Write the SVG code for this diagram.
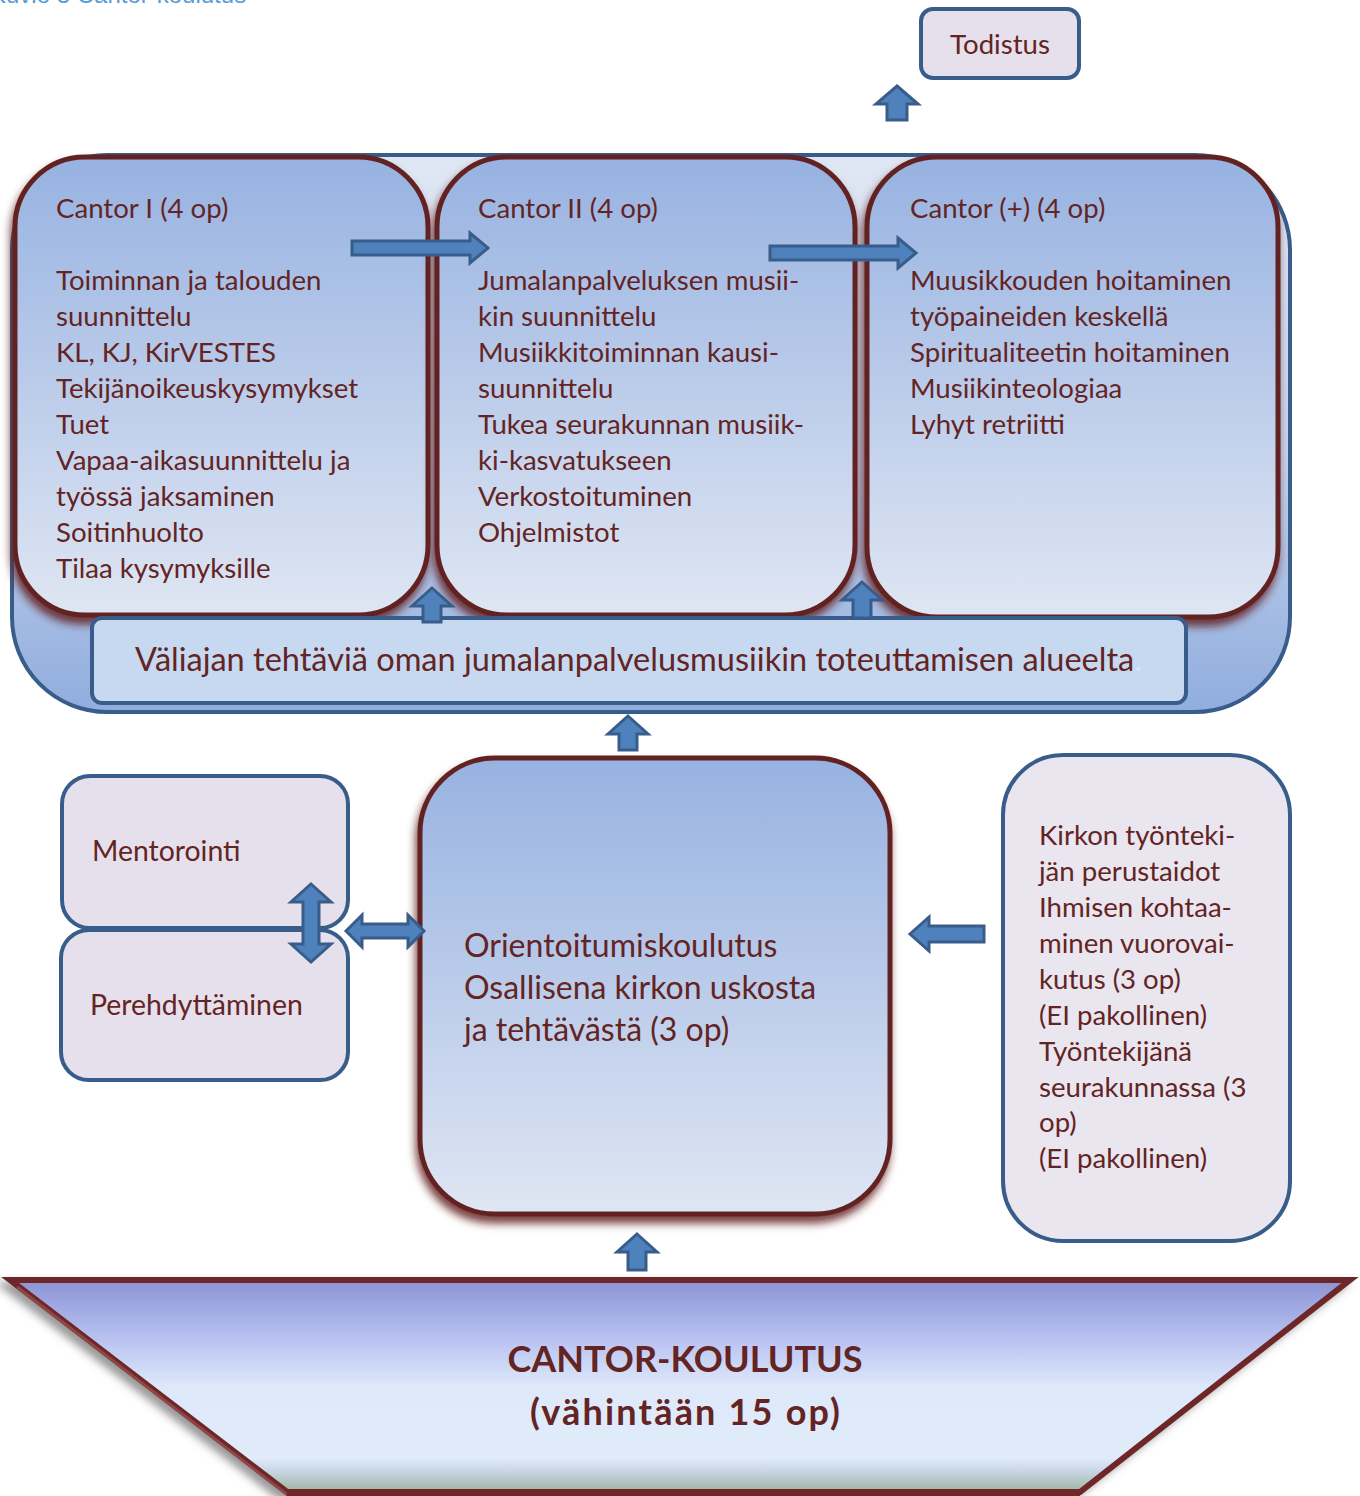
<svg xmlns="http://www.w3.org/2000/svg" width="1360" height="1496" viewBox="0 0 1360 1496">
<defs>
<linearGradient id="gFrame" x1="0" y1="0" x2="0" y2="1">
<stop offset="0" stop-color="#E0E7F4"/><stop offset="0.55" stop-color="#C3D2EC"/><stop offset="1" stop-color="#90ADDE"/>
</linearGradient>
<linearGradient id="gBox" x1="0" y1="0" x2="0" y2="1">
<stop offset="0" stop-color="#97B2E1"/><stop offset="1" stop-color="#DFE6F3"/>
</linearGradient>
<linearGradient id="gTrap" x1="0" y1="0" x2="0" y2="1">
<stop offset="0" stop-color="#8B94D3"/><stop offset="0.28" stop-color="#B9C2F1"/><stop offset="0.5" stop-color="#DDE8FA"/><stop offset="0.84" stop-color="#E1ECFA"/><stop offset="0.9" stop-color="#C9D6E6"/><stop offset="1" stop-color="#9EB59E"/>
</linearGradient>
<filter id="shRed" x="-10%" y="-10%" width="120%" height="125%">
<feDropShadow dx="-2" dy="7" stdDeviation="4" flood-color="#632423" flood-opacity="0.85"/>
</filter>
<filter id="shGrey" x="-10%" y="-10%" width="120%" height="130%">
<feDropShadow dx="-7" dy="5" stdDeviation="4" flood-color="#555555" flood-opacity="0.6"/>
</filter>
<style>
.t{font-family:Lato,"Liberation Sans",sans-serif;fill:#632423;}
.c{font-size:27.6px;}
.m{font-size:28.4px;}
.o{font-size:32px;}
.red{stroke:#632423;stroke-width:5;fill:url(#gBox);}
.blue{stroke:#385D8A;stroke-width:4;}
.lav{fill:#E5E0EC;}
.arr{fill:#4F81BD;stroke:#385D8A;stroke-width:3;stroke-linejoin:miter;}
</style>
</defs>
<rect width="1360" height="1496" fill="#FFFFFF"/>
<text x="-10" y="3" style="font-family:'Liberation Sans',sans-serif;font-size:24px;fill:#5B9BD5;">Kuvio 3 Cantor-koulutus</text>

<g id="frame">
<rect x="12" y="155" width="1278" height="557" rx="95" ry="95" fill="url(#gFrame)" class="blue"/>
</g>

<g id="todistus">
<rect x="921" y="9" width="158" height="69" rx="12" class="lav blue"/>
<text x="1000" y="54" text-anchor="middle" class="t c">Todistus</text>
</g>

<g id="cantor1">
<rect x="15" y="157" width="413" height="458" rx="70" class="red" filter="url(#shRed)"/>
<text class="t c" x="56" y="218">Cantor I (4 op)</text>
<text class="t c" x="56" y="290">Toiminnan ja talouden</text>
<text class="t c" x="56" y="326">suunnittelu</text>
<text class="t c" x="56" y="362">KL, KJ, KirVESTES</text>
<text class="t c" x="56" y="398">Tekijänoikeuskysymykset</text>
<text class="t c" x="56" y="434">Tuet</text>
<text class="t c" x="56" y="470">Vapaa-aikasuunnittelu ja</text>
<text class="t c" x="56" y="506">työssä jaksaminen</text>
<text class="t c" x="56" y="542">Soitinhuolto</text>
<text class="t c" x="56" y="578">Tilaa kysymyksille</text>
</g>

<g id="cantor2">
<rect x="437" y="157" width="418" height="458" rx="70" class="red" filter="url(#shRed)"/>
<text class="t c" x="478" y="218">Cantor II (4 op)</text>
<text class="t c" x="478" y="290">Jumalanpalveluksen musii-</text>
<text class="t c" x="478" y="326">kin suunnittelu</text>
<text class="t c" x="478" y="362">Musiikkitoiminnan kausi-</text>
<text class="t c" x="478" y="398">suunnittelu</text>
<text class="t c" x="478" y="434">Tukea seurakunnan musiik-</text>
<text class="t c" x="478" y="470">ki-kasvatukseen</text>
<text class="t c" x="478" y="506">Verkostoituminen</text>
<text class="t c" x="478" y="542">Ohjelmistot</text>
</g>

<g id="cantor3">
<rect x="867" y="157" width="411" height="460" rx="70" class="red" filter="url(#shRed)"/>
<text class="t c" x="910" y="218">Cantor (+) (4 op)</text>
<text class="t c" x="910" y="290">Muusikkouden hoitaminen</text>
<text class="t c" x="910" y="326">työpaineiden keskellä</text>
<text class="t c" x="910" y="362">Spiritualiteetin hoitaminen</text>
<text class="t c" x="910" y="398">Musiikinteologiaa</text>
<text class="t c" x="910" y="434">Lyhyt retriitti</text>
</g>

<g id="valiaika">
<rect x="92" y="618" width="1094" height="85" rx="10" fill="#C6D9F1" class="blue"/>
<text class="t" x="135" y="671" style="font-size:32.5px;">Väliajan tehtäviä oman jumalanpalvelusmusiikin toteuttamisen alueelta<tspan style="fill:#DCE4F2;">.</tspan></text>
</g>

<g id="mentorointi">
<rect x="62" y="776" width="286" height="152" rx="28" class="lav blue"/>
<text class="t m" x="92" y="861">Mentorointi</text>
</g>

<g id="perehdyttaminen">
<rect x="61" y="930" width="287" height="150" rx="28" class="lav blue"/>
<text class="t m" x="90" y="1015">Perehdyttäminen</text>
</g>

<g id="orientoituminen">
<rect x="420" y="758" width="470" height="456" rx="75" class="red" filter="url(#shRed)"/>
<text class="t o" x="464" y="957">Orientoitumiskoulutus</text>
<text class="t o" x="464" y="999">Osallisena kirkon uskosta</text>
<text class="t o" x="464" y="1041">ja tehtävästä (3 op)</text>
</g>

<g id="kirkon">
<rect x="1003" y="755" width="287" height="486" rx="60" fill="#E9E6F0" class="blue"/>
<text class="t c" x="1039" y="845">Kirkon työnteki-</text>
<text class="t c" x="1039" y="881">jän perustaidot</text>
<text class="t c" x="1039" y="917">Ihmisen kohtaa-</text>
<text class="t c" x="1039" y="953">minen vuorovai-</text>
<text class="t c" x="1039" y="989">kutus (3 op)</text>
<text class="t c" x="1039" y="1025">(EI pakollinen)</text>
<text class="t c" x="1039" y="1061">Työntekijänä</text>
<text class="t c" x="1039" y="1097">seurakunnassa (3</text>
<text class="t c" x="1039" y="1132">op)</text>
<text class="t c" x="1039" y="1168">(EI pakollinen)</text>
</g>

<g id="cantorkoulutus">
<polygon points="10,1280 1350,1280 1080,1492 287,1492" fill="url(#gTrap)" stroke="#6E2828" stroke-width="6" stroke-linejoin="miter" filter="url(#shGrey)"/>
<line x1="17" y1="1287" x2="289" y2="1496" stroke="#8E4646" stroke-width="3"/>
<line x1="287" y1="1493" x2="1080" y2="1493" stroke="#6E2828" stroke-width="8"/>
<text class="t" x="685" y="1372" text-anchor="middle" style="font-size:36px;font-weight:bold;">CANTOR-KOULUTUS</text>
<text class="t" x="685" y="1425" text-anchor="middle" style="font-size:36px;font-weight:bold;" textLength="310" lengthAdjust="spacing">(vähintään 15 op)</text>
</g>

<g id="connectors">
<path class="arr" d="M897,86 L918,104 L907,104 L907,120 L887,120 L887,104 L876,104 Z"/>
<path class="arr" d="M352,241 L470,241 L470,233 L488,248 L470,263 L470,255 L352,255 Z"/>
<path class="arr" d="M770,246 L898,246 L898,238 L916,253 L898,268 L898,260 L770,260 Z"/>
<path class="arr" d="M432,588 L452,606 L441,606 L441,622 L423,622 L423,606 L412,606 Z"/>
<path class="arr" d="M862,582 L882,600 L871,600 L871,618 L853,618 L853,600 L842,600 Z"/>
<path class="arr" d="M628,716 L648,734 L637,734 L637,750 L619,750 L619,734 L608,734 Z"/>
<path class="arr" d="M637,1234 L657,1252 L646,1252 L646,1270 L628,1270 L628,1252 L617,1252 Z"/>
<path class="arr" d="M910,934 L929,917 L929,926 L984,926 L984,942 L929,942 L929,951 Z"/>
<path class="arr" d="M346,931 L362,915 L362,924 L408,924 L408,915 L424,931 L408,947 L408,938 L362,938 L362,947 Z"/>
<path class="arr" d="M311,884 L331,902 L319,902 L319,944 L331,944 L311,962 L291,944 L303,944 L303,902 L291,902 Z"/>
</g>
</svg>
